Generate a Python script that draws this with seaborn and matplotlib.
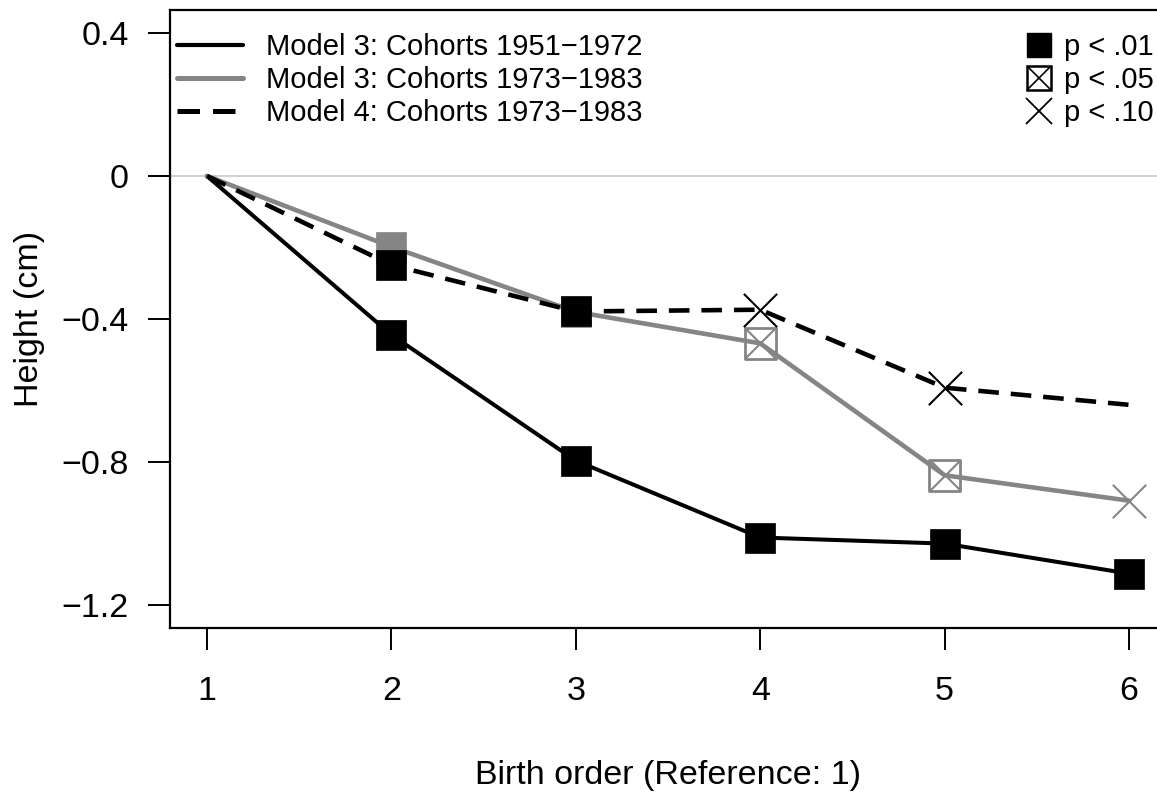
import matplotlib
matplotlib.use("Agg")
import matplotlib.pyplot as plt
from matplotlib.lines import Line2D
from matplotlib.legend_handler import HandlerTuple
import numpy as np
import pandas as pd
import seaborn as sns

# ---------------- data ----------------
birth_order = [1, 2, 3, 4, 5, 6]
m3_early = [0.0, -0.444, -0.796, -1.011, -1.028, -1.112]   # Model 3: Cohorts 1951-1972
m3_late = [0.0, -0.198, -0.380, -0.468, -0.837, -0.908]    # Model 3: Cohorts 1973-1983
m4_late = [0.0, -0.249, -0.379, -0.374, -0.592, -0.640]    # Model 4: Cohorts 1973-1983
sig_m3_early = ["none", "p01", "p01", "p01", "p01", "p01"]
sig_m3_late = ["none", "p01", "p01", "p05", "p05", "p10"]
sig_m4_late = ["none", "p01", "p01", "p10", "p10", "none"]
series_labels = ["Model 3: Cohorts 1951\u22121972",
                 "Model 3: Cohorts 1973\u22121983",
                 "Model 4: Cohorts 1973\u22121983"]
sig_labels = ["p < .01", "p < .05", "p < .10"]
y_ticks = [0.4, 0.0, -0.4, -0.8, -1.2]
y_tick_labels = ["0.4", "0", "\u22120.4", "\u22120.8", "\u22121.2"]
x_tick_labels = ["1", "2", "3", "4", "5", "6"]

# ---------------- style ----------------
sns.set_theme(style="white")
plt.rcParams["font.family"] = ["Liberation Sans", "DejaVu Sans"]
plt.rcParams["axes.unicode_minus"] = True

W, H = 1157, 794
fig = plt.figure(figsize=(W / 100, H / 100), dpi=100)
ax_left, ax_right, ax_top, ax_bot = 170, 1166, 10, 628
ax = fig.add_axes([ax_left / W, (H - ax_bot) / H, (ax_right - ax_left) / W, (ax_bot - ax_top) / H])

BLACK = "#000000"
GRAY = "#858585"
MS = 22  # square side in pt
AX_FS = 24.5
LEG_FS = 21

ax.axhline(0, color="#c8c8c8", lw=1.2, zorder=1)

series = [
    (m3_late, sig_m3_late, GRAY, "-", 3.3),
    (m4_late, sig_m4_late, BLACK, (0, (4.5, 2.6)), 3.3),
    (m3_early, sig_m3_early, BLACK, "-", 2.9),
]
order = [2, 0, 1]
z = 2
for i in order:
    vals, sigs, col, ls, lw = series[i]
    df = pd.DataFrame({"x": birth_order, "y": vals, "sig": sigs})
    sns.lineplot(data=df, x="x", y="y", color=col, lw=lw, ax=ax, zorder=z,
                 estimator=None, sort=False)
    ax.lines[-1].set_linestyle(ls)
    ax.lines[-1].set_dash_capstyle("butt")
    z += 1
    d01 = df[df.sig == "p01"]
    if len(d01):
        sns.scatterplot(data=d01, x="x", y="y", marker="s", s=MS ** 2, color=col,
                        edgecolor=col, linewidth=0.5, ax=ax, zorder=z)
    d05 = df[df.sig == "p05"]
    if len(d05):
        sns.scatterplot(data=d05, x="x", y="y", marker="s", s=MS ** 2, facecolor="none",
                        edgecolor=col, linewidth=2.0, ax=ax, zorder=z)
        sns.scatterplot(data=d05, x="x", y="y", marker="x", s=MS ** 2, color=col,
                        linewidth=1.5, ax=ax, zorder=z)
    d10 = df[df.sig == "p10"]
    if len(d10):
        sns.scatterplot(data=d10, x="x", y="y", marker="x", s=(MS + 2) ** 2, color=col,
                        linewidth=1.5, ax=ax, zorder=z)
    z += 1

ax.set_xlim(0.8, 6.2)
ax.set_ylim(-1.264, 0.464)
ax.set_xticks(birth_order)
ax.set_xticklabels(x_tick_labels)
ax.set_yticks(y_ticks)
ax.set_yticklabels(y_tick_labels)

for sp in ax.spines.values():
    sp.set_visible(True)
    sp.set_color("black")
    sp.set_linewidth(1.6)

ax.tick_params(axis="both", which="major", direction="out", length=15.5, width=1.4,
               color="black", labelsize=AX_FS, labelcolor="black", bottom=True, left=True)
ax.tick_params(axis="x", pad=19)
ax.tick_params(axis="y", pad=14)

ax.set_xlabel("Birth order (Reference: 1)", fontsize=AX_FS, color="black")
ax.set_ylabel("Height (cm)", fontsize=AX_FS, color="black")
ax.xaxis.set_label_coords(0.5, -0.214)
ax.yaxis.set_label_coords(-0.126, 0.5)
ax.grid(False)

# ---------------- legends ----------------
line_handles = [
    Line2D([], [], color=BLACK, lw=3.0),
    Line2D([], [], color=GRAY, lw=3.6),
    Line2D([], [], color=BLACK, lw=3.6, ls=(0, (4.5, 2.6))),
]
leg1 = ax.legend(line_handles, series_labels, loc="upper left",
                 bbox_to_anchor=(177 / W, 1 - 33 / H), bbox_transform=fig.transFigure,
                 frameon=False, fontsize=LEG_FS, handlelength=2.25, handletextpad=0.8,
                 labelspacing=0.17, borderpad=0, borderaxespad=0)
for t in leg1.get_texts():
    t.set_color("black")
ax.add_artist(leg1)

mk_handles = [
    Line2D([], [], ls="none", marker="s", ms=17.5, mfc=BLACK, mec=BLACK),
    (Line2D([], [], ls="none", marker="s", ms=17.5, mfc="none", mec=BLACK, mew=1.8),
     Line2D([], [], ls="none", marker="x", ms=17.5, mec=BLACK, mew=1.2)),
    Line2D([], [], ls="none", marker="x", ms=19, mec=BLACK, mew=1.3),
]
leg2 = ax.legend(mk_handles, sig_labels, loc="upper left",
                 bbox_to_anchor=(1022 / W, 1 - 33 / H), bbox_transform=fig.transFigure,
                 frameon=False, fontsize=LEG_FS, handlelength=1.15, handletextpad=0.28,
                 labelspacing=0.17, borderpad=0, borderaxespad=0,
                 handler_map={tuple: HandlerTuple(ndivide=1, pad=0)})
for t in leg2.get_texts():
    t.set_color("black")

fig.savefig("out.png", dpi=100)
